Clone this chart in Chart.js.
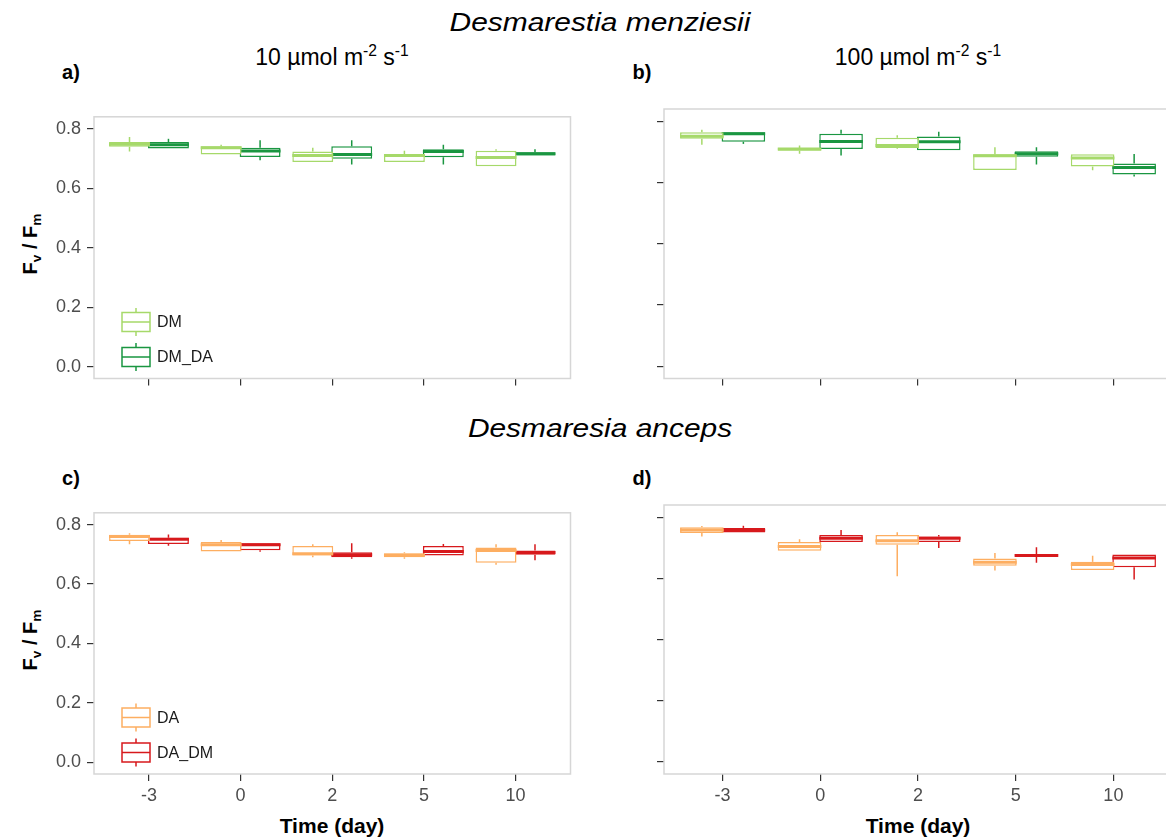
<!DOCTYPE html>
<html>
<head>
<meta charset="utf-8">
<script src="https://cdn.jsdelivr.net/npm/chart.js@4.4.0/dist/chart.umd.min.js"></script>
<style>
  body { margin: 0; background: #fff; overflow: hidden; }
  #fig { position: relative; width: 1166px; height: 840px; overflow: hidden;
         font-family: "Liberation Sans", Arial, sans-serif; color: #000; }
  .lbl { position: absolute; white-space: nowrap; transform: translate(-50%, -50%); }
  .panel { position: absolute; }
  .sp { font-size: 0.68em; position: relative; top: -0.55em; }
  .sb { font-size: 0.68em; position: relative; top: 0.3em; }
</style>
</head>
<body>
<div id="fig">
  <div class="lbl" style="left:600px;top:22px;font-size:26px;font-style:italic;transform:translate(-50%,-50%) scaleX(1.15)">Desmarestia menziesii</div>
  <div class="lbl" style="left:332px;top:57px;font-size:23px">10 µmol m<span class="sp">-2</span> s<span class="sp">-1</span></div>
  <div class="lbl" style="left:918px;top:57px;font-size:23px">100 µmol m<span class="sp">-2</span> s<span class="sp">-1</span></div>
  <div class="lbl" style="left:71px;top:72px;font-size:20px;font-weight:bold">a)</div>
  <div class="lbl" style="left:642px;top:72px;font-size:20px;font-weight:bold">b)</div>
  <div class="lbl" style="left:600px;top:428px;font-size:26px;font-style:italic;transform:translate(-50%,-50%) scaleX(1.15)">Desmaresia anceps</div>
  <div class="lbl" style="left:71px;top:478px;font-size:20px;font-weight:bold">c)</div>
  <div class="lbl" style="left:642px;top:478px;font-size:20px;font-weight:bold">d)</div>
  <div class="lbl" style="left:30px;top:244px;font-size:20px;font-weight:bold;transform:translate(-50%,-50%) rotate(-90deg)">F<span class="sb">v</span> / F<span class="sb">m</span></div>
  <div class="lbl" style="left:30px;top:640px;font-size:20px;font-weight:bold;transform:translate(-50%,-50%) rotate(-90deg)">F<span class="sb">v</span> / F<span class="sb">m</span></div>
  <div class="lbl" style="left:332px;top:826px;font-size:21px;font-weight:bold">Time (day)</div>
  <div class="lbl" style="left:918px;top:826px;font-size:21px;font-weight:bold">Time (day)</div>

  <div class="panel" style="left:0px;top:100px"><canvas id="chartA" width="580" height="300"></canvas></div>
  <div class="panel" style="left:574px;top:100px"><canvas id="chartB" width="600" height="300"></canvas></div>
  <div class="panel" style="left:0px;top:496px"><canvas id="chartC" width="580" height="310"></canvas></div>
  <div class="panel" style="left:574px;top:496px"><canvas id="chartD" width="600" height="310"></canvas></div>
</div>
<script>
var days = ['-3', '0', '2', '5', '10'];
var yTicks = [0, 0.2, 0.4, 0.6, 0.8];

// five-number summaries per day: [min, q1, median, q3, max]
var dmLow    = [[0.723, 0.739, 0.748, 0.755, 0.772], [0.713, 0.713, 0.736, 0.741, 0.746], [0.688, 0.688, 0.710, 0.723, 0.736], [0.688, 0.688, 0.710, 0.715, 0.726], [0.674, 0.674, 0.703, 0.726, 0.731]];
var dmdaLow  = [[0.733, 0.733, 0.746, 0.755, 0.766], [0.694, 0.705, 0.725, 0.736, 0.761], [0.680, 0.699, 0.713, 0.741, 0.761], [0.680, 0.704, 0.723, 0.731, 0.746], [0.710, 0.710, 0.716, 0.721, 0.731]];
var dmHigh   = [[0.723, 0.743, 0.751, 0.764, 0.772], [0.694, 0.704, 0.709, 0.713, 0.721], [0.710, 0.713, 0.721, 0.746, 0.754], [0.641, 0.641, 0.687, 0.692, 0.715], [0.640, 0.652, 0.680, 0.692, 0.692]];
var dmdaHigh = [[0.726, 0.733, 0.759, 0.764, 0.764], [0.688, 0.709, 0.734, 0.759, 0.772], [0.705, 0.705, 0.733, 0.750, 0.766], [0.659, 0.684, 0.694, 0.702, 0.715], [0.620, 0.626, 0.649, 0.662, 0.693]];
var daLow    = [[0.734, 0.745, 0.760, 0.766, 0.771], [0.710, 0.710, 0.732, 0.742, 0.748], [0.690, 0.696, 0.702, 0.728, 0.734], [0.685, 0.690, 0.697, 0.704, 0.707], [0.665, 0.672, 0.713, 0.723, 0.734]];
var dadmLow  = [[0.729, 0.735, 0.751, 0.756, 0.767], [0.709, 0.714, 0.732, 0.737, 0.737], [0.685, 0.690, 0.699, 0.707, 0.737], [0.696, 0.696, 0.710, 0.728, 0.735], [0.680, 0.699, 0.706, 0.713, 0.734]];
var daHigh   = [[0.737, 0.748, 0.758, 0.767, 0.771], [0.690, 0.690, 0.704, 0.719, 0.728], [0.607, 0.710, 0.723, 0.742, 0.751], [0.626, 0.641, 0.653, 0.665, 0.683], [0.627, 0.627, 0.645, 0.654, 0.674]];
var dadmHigh = [[0.750, 0.750, 0.757, 0.765, 0.772], [0.719, 0.719, 0.731, 0.742, 0.758], [0.699, 0.719, 0.731, 0.737, 0.742], [0.651, 0.671, 0.675, 0.680, 0.702], [0.596, 0.636, 0.667, 0.678, 0.678]];

var FONT = '"Liberation Sans", Arial, sans-serif';

// whiskers under each box, median bar on top, panel frame and key
var boxParts = {
  id: 'boxParts',
  beforeDatasetDraw: function(chart, args) {
    var ds = chart.data.datasets[args.index], y = chart.scales.y, ctx = chart.ctx;
    ctx.save();
    ctx.strokeStyle = ds.borderColor;
    ctx.lineWidth = 1.5;
    args.meta.data.forEach(function(el, i) {
      var st = ds.stats[i];
      ctx.beginPath();
      ctx.moveTo(el.x, y.getPixelForValue(st[4]));
      ctx.lineTo(el.x, y.getPixelForValue(st[3]));
      ctx.moveTo(el.x, y.getPixelForValue(st[1]));
      ctx.lineTo(el.x, y.getPixelForValue(st[0]));
      ctx.stroke();
    });
    ctx.restore();
  },
  afterDatasetDraw: function(chart, args) {
    var ds = chart.data.datasets[args.index], y = chart.scales.y, ctx = chart.ctx;
    ctx.save();
    ctx.strokeStyle = ds.borderColor;
    ctx.lineWidth = 3;
    args.meta.data.forEach(function(el, i) {
      var my = y.getPixelForValue(ds.stats[i][2]);
      ctx.beginPath();
      ctx.moveTo(el.x - el.width / 2, my);
      ctx.lineTo(el.x + el.width / 2, my);
      ctx.stroke();
    });
    ctx.restore();
  },
  afterDraw: function(chart, args, opts) {
    var a = chart.chartArea, ctx = chart.ctx;
    ctx.save();
    ctx.strokeStyle = '#d6d6d6';
    ctx.lineWidth = 1.5;
    ctx.strokeRect(a.left, a.top, a.right - a.left, a.bottom - a.top);
    if (opts.legend) {
      chart.data.datasets.forEach(function(ds, k) {
        var cy = a.bottom - 56.5 + k * 35;
        var x0 = a.left + 28, w = 28, xm = x0 + w / 2;
        ctx.strokeStyle = ds.borderColor;
        ctx.lineWidth = 1.5;
        ctx.strokeRect(x0, cy - 9.5, w, 19);
        ctx.beginPath();
        ctx.moveTo(x0, cy); ctx.lineTo(x0 + w, cy);
        ctx.moveTo(xm, cy - 9.5); ctx.lineTo(xm, cy - 14);
        ctx.moveTo(xm, cy + 9.5); ctx.lineTo(xm, cy + 14);
        ctx.stroke();
        ctx.fillStyle = '#1a1a1a';
        ctx.font = '16px ' + FONT;
        ctx.textBaseline = 'middle';
        ctx.fillText(ds.label, a.left + 63, cy + 1);
      });
    }
    ctx.restore();
  }
};

function makePanel(id, geo, series, showY, showX, legend) {
  var datasets = series.map(function(s) {
    return {
      label: s.name,
      stats: s.stats,
      data: s.stats.map(function(st, i) { return { x: i + 1, y: [st[1], st[3]] }; }),
      backgroundColor: '#ffffff',
      borderColor: s.color,
      borderWidth: 1.5,
      borderSkipped: false,
      categoryPercentage: 0.85,
      barPercentage: 1.05
    };
  });
  var tickFont = { size: 18, family: FONT };
  return new Chart(document.getElementById(id), {
    type: 'bar',
    data: { datasets: datasets },
    plugins: [boxParts],
    options: {
      responsive: false,
      animation: false,
      events: [],
      layout: { padding: { top: geo.padTop, right: geo.padRight, left: 0, bottom: 0 } },
      plugins: {
        legend: { display: false },
        tooltip: { enabled: false },
        boxParts: { legend: legend }
      },
      scales: {
        x: {
          type: 'linear',
          min: 0.4,
          max: 5.6,
          offset: false,
          afterBuildTicks: function(s) { s.ticks = days.map(function(d, i) { return { value: i + 1 }; }); },
          afterFit: function(s) { s.height = geo.xh; },
          grid: { offset: false, drawOnChartArea: false, drawTicks: true, tickLength: 7, color: '#333333', lineWidth: 1.2 },
          border: { display: false },
          ticks: {
            display: showX, padding: 4, color: '#4d4d4d', font: tickFont,
            maxRotation: 0, autoSkip: false,
            callback: function(v) { return days[v - 1]; }
          }
        },
        y: {
          min: -0.04,
          max: 0.84,
          afterBuildTicks: function(s) { s.ticks = yTicks.map(function(v) { return { value: v }; }); },
          afterFit: function(s) { s.width = geo.yw; },
          grid: { drawOnChartArea: false, drawTicks: true, tickLength: 7, color: '#333333', lineWidth: 1.2 },
          border: { display: false },
          ticks: {
            display: showY, padding: 6, color: '#4d4d4d', font: tickFont,
            callback: function(v) { return v.toFixed(1); }
          }
        }
      }
    }
  });
}

var leftTop   = { yw: 94, padTop: 9, padRight: 9.5, xh: 21.5 };
var rightTop  = { yw: 90, padTop: 9, padRight: 2, xh: 21.5 };
var leftBot   = { yw: 94, padTop: 9, padRight: 9.5, xh: 32 };
var rightBot  = { yw: 90, padTop: 9, padRight: 2, xh: 32 };

var cDM = '#a6d96a', cDMDA = '#1a9641', cDA = '#fdae61', cDADM = '#d7191c';

makePanel('chartA', leftTop,  [{ name: 'DM', stats: dmLow,  color: cDM }, { name: 'DM_DA', stats: dmdaLow,  color: cDMDA }], true,  false, true);
makePanel('chartB', rightTop, [{ name: 'DM', stats: dmHigh, color: cDM }, { name: 'DM_DA', stats: dmdaHigh, color: cDMDA }], false, false, false);
makePanel('chartC', leftBot,  [{ name: 'DA', stats: daLow,  color: cDA }, { name: 'DA_DM', stats: dadmLow,  color: cDADM }], true,  true,  true);
makePanel('chartD', rightBot, [{ name: 'DA', stats: daHigh, color: cDA }, { name: 'DA_DM', stats: dadmHigh, color: cDADM }], false, true,  false);
</script>
</body>
</html>
